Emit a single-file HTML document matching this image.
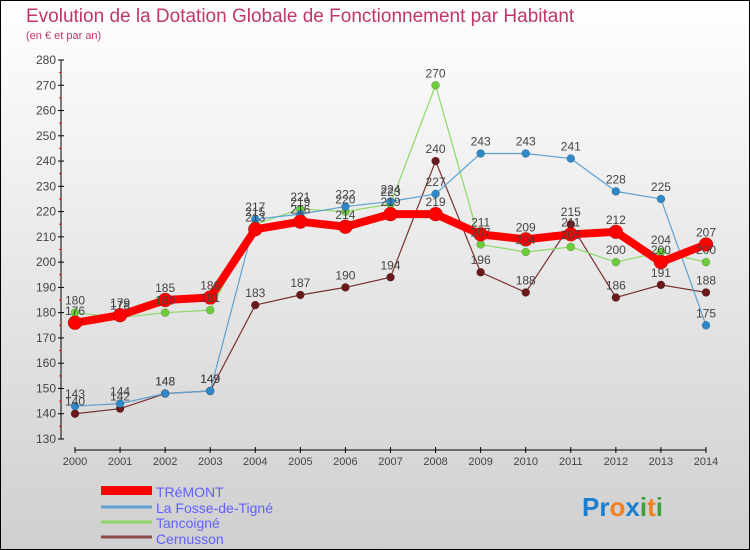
<!DOCTYPE html>
<html><head><meta charset="utf-8"><style>
body{margin:0;}
svg{display:block;font-family:"Liberation Sans",sans-serif;}
</style></head><body>
<svg id="c" width="750" height="550" viewBox="0 0 750 550">
<defs><linearGradient id="bg" x1="0" y1="0" x2="0" y2="1"><stop offset="0" stop-color="#ffffff"/><stop offset="1" stop-color="#cfcfcf"/></linearGradient></defs>
<rect x="0.5" y="0.5" width="749" height="549" fill="url(#bg)" stroke="#000"/>
<text x="26" y="22" font-size="19" fill="#c0356b">Evolution de la Dotation Globale de Fonctionnement par Habitant</text>
<text x="26" y="39" font-size="11" fill="#c0356b">(en € et par an)</text>
<g id="axes"></g><g id="series"></g><g id="labels"></g>
<g>
<rect x="101" y="486" width="51" height="9" fill="#f00"/>
<line x1="101" y1="507" x2="152" y2="507" stroke="#5fa0d0" stroke-width="3"/>
<line x1="101" y1="522" x2="152" y2="522" stroke="#8ed86a" stroke-width="3"/>
<line x1="101" y1="537" x2="152" y2="537" stroke="#8a4a4a" stroke-width="3"/>
<text x="156" y="497" font-size="14" fill="#6060ff">TRéMONT</text>
<text x="156" y="513" font-size="14" fill="#6060ff">La Fosse-de-Tigné</text>
<text x="156" y="528" font-size="14" fill="#6060ff">Tancoigné</text>
<text x="156" y="544" font-size="14" fill="#6060ff">Cernusson</text>
</g>
<text x="582" y="516" font-size="26" font-weight="bold"><tspan fill="#1a7fd0">Pr</tspan><tspan fill="#f08020">o</tspan><tspan fill="#1a7fd0">x</tspan><tspan fill="#40a040">i</tspan><tspan fill="#f08020">t</tspan><tspan fill="#40a040">i</tspan></text>
</svg>
<script>
const years=[2000,2001,2002,2003,2004,2005,2006,2007,2008,2009,2010,2011,2012,2013,2014];
const yTicks=[130,140,150,160,170,180,190,200,210,220,230,240,250,260,270,280];
const tremont=[176,179,185,186,213,216,214,219,219,211,209,211,212,200,207];
const fosse=[143,144,148,149,217,219,222,224,227,243,243,241,228,225,175];
const tancoigne=[180,178,180,181,215,221,220,223,270,207,204,206,200,204,200];
const cernusson=[140,142,148,149,183,187,190,194,240,196,188,215,186,191,188];
const NS="http://www.w3.org/2000/svg";
const X=i=>75+i*(706-75)/(years.length-1);
const Y=v=>439-(v-130)*(439-60)/150;
function mk(t,a,p){const e=document.createElementNS(NS,t);for(const k in a)e.setAttribute(k,a[k]);p.appendChild(e);return e;}
const ax=document.getElementById('axes');
let yl=mk('line',{x1:61,y1:60,x2:61,y2:439,stroke:'#000'},ax);


yTicks.forEach(v=>{
 mk('line',{x1:58,y1:Y(v),x2:64,y2:Y(v),stroke:'#000'},ax);
 if(v<280)mk('line',{x1:59,y1:Y(v+5),x2:61,y2:Y(v+5),stroke:'#f00'},ax);
 const t=mk('text',{x:56,y:Y(v)+4,'font-size':12,fill:'#444','text-anchor':'end'},ax);
 t.textContent=v;
 
 
});
let xl=mk('line',{x1:75,y1:450,x2:706,y2:450,stroke:'#000'},ax);


years.forEach((y,i)=>{
 mk('line',{x1:X(i),y1:447,x2:X(i),y2:453,stroke:'#000'},ax);
 const t=mk('text',{x:X(i),y:465,'font-size':11,fill:'#444','text-anchor':'middle'},ax);
 t.textContent=y;
 
 
});
const sg=document.getElementById('series'),lg=document.getElementById('labels');
function draw(data,name,color,w,r,dot){
 const g=mk('g',{},sg);
 
 
 const pl=mk('polyline',{points:data.map((v,i)=>X(i)+','+Y(v)).join(' '),fill:'none',stroke:color,'stroke-width':w,'stroke-linejoin':'round'},g);
 
 
 data.forEach((v,i)=>{
  const c=mk('circle',{cx:X(i),cy:Y(v),r:r,fill:dot,stroke:'rgba(0,0,0,0.3)','stroke-width':0.5},g);
  
  
  const t=mk('text',{x:X(i),y:Y(v)-8,'font-size':12,fill:'#444','text-anchor':'middle'},lg);
  t.textContent=v;
  
  
 });
}
draw(cernusson,'cernusson','#7a3030',1.2,4,'#6a1a1a');
draw(tancoigne,'tancoigne','#8ed86a',1.2,4,'#6ccc3a');
draw(fosse,'la-fosse','#5fa0d0',1.2,4,'#3088c8');
draw(tremont,'tremont','#f00',8,7,'#f00');
</script>
</body></html>
